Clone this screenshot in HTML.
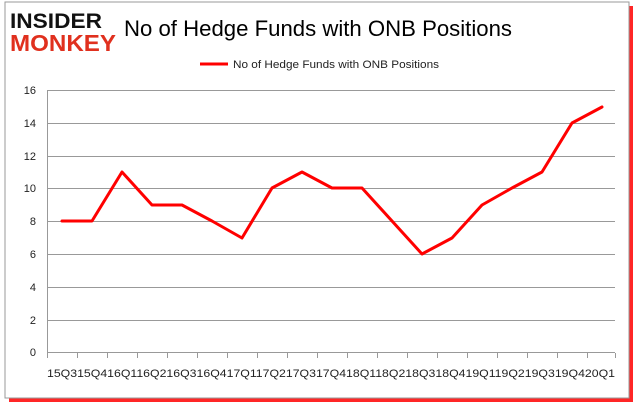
<!DOCTYPE html>
<html><head><style>
body{margin:0;width:637px;height:408px;background:#fff;overflow:hidden;font-family:"Liberation Sans",sans-serif}
</style></head><body>
<svg width="637" height="408" xmlns="http://www.w3.org/2000/svg">
<rect x="9" y="6" width="624" height="396" fill="#f00" opacity="0.85"/>
<rect x="5" y="2" width="624" height="396" fill="#fff" stroke="#999" stroke-width="1"/>
<text x="10" y="28" font-family="Liberation Sans" font-weight="900" font-size="21" fill="#111" textLength="92" lengthAdjust="spacingAndGlyphs">INSIDER</text>
<text x="10" y="51" font-family="Liberation Sans" font-weight="900" font-size="23" fill="#e0301e" textLength="106" lengthAdjust="spacingAndGlyphs">MONKEY</text>
<text x="124" y="36" font-size="22" fill="#000" textLength="388" lengthAdjust="spacingAndGlyphs">No of Hedge Funds with ONB Positions</text>
<line x1="200" y1="64" x2="228" y2="64" stroke="#f00" stroke-width="3"/>
<text x="233" y="68" font-size="11" fill="#222" textLength="206" lengthAdjust="spacingAndGlyphs">No of Hedge Funds with ONB Positions</text>
<g stroke="#999" stroke-width="1">
<line x1="47" y1="90.5" x2="615" y2="90.5"/><line x1="47" y1="123.5" x2="615" y2="123.5"/>
<line x1="47" y1="156.5" x2="615" y2="156.5"/><line x1="47" y1="188.5" x2="615" y2="188.5"/>
<line x1="47" y1="221.5" x2="615" y2="221.5"/><line x1="47" y1="254.5" x2="615" y2="254.5"/>
<line x1="47" y1="287.5" x2="615" y2="287.5"/><line x1="47" y1="320.5" x2="615" y2="320.5"/>
<line x1="47" y1="352.5" x2="615" y2="352.5"/><line x1="47.5" y1="90" x2="47.5" y2="353"/>
</g>
<g font-size="11" fill="#222" text-anchor="end">
<text x="36" y="94">16</text><text x="36" y="127">14</text><text x="36" y="160">12</text><text x="36" y="192">10</text>
<text x="36" y="225">8</text><text x="36" y="258">6</text><text x="36" y="291">4</text><text x="36" y="324">2</text><text x="36" y="356">0</text>
</g>
<g stroke="#999">
<path d="M47.5 353v5M77.5 353v5M107.5 353v5M137.5 353v5M167.5 353v5M197.5 353v5M227.5 353v5M257.5 353v5M287.5 353v5M317.5 353v5M347.5 353v5M377.5 353v5M407.5 353v5M437.5 353v5M467.5 353v5M497.5 353v5M527.5 353v5M557.5 353v5M587.5 353v5M615.5 353v5"/>
</g>
<text x="47" y="377" font-size="11" fill="#222" textLength="568" lengthAdjust="spacingAndGlyphs">15Q315Q416Q116Q216Q316Q417Q117Q217Q317Q418Q118Q218Q318Q419Q119Q219Q319Q420Q1</text>
<polyline fill="none" stroke="#f00" stroke-width="3" stroke-linejoin="round" stroke-linecap="round"
points="62,221 92,221 122,172 152,205 182,205 212,221 242,238 272,188 302,172 332,188 362,188 392,221 422,254 452,238 482,205 512,188 542,172 572,123 602,107"/>
</svg>
</body></html>
